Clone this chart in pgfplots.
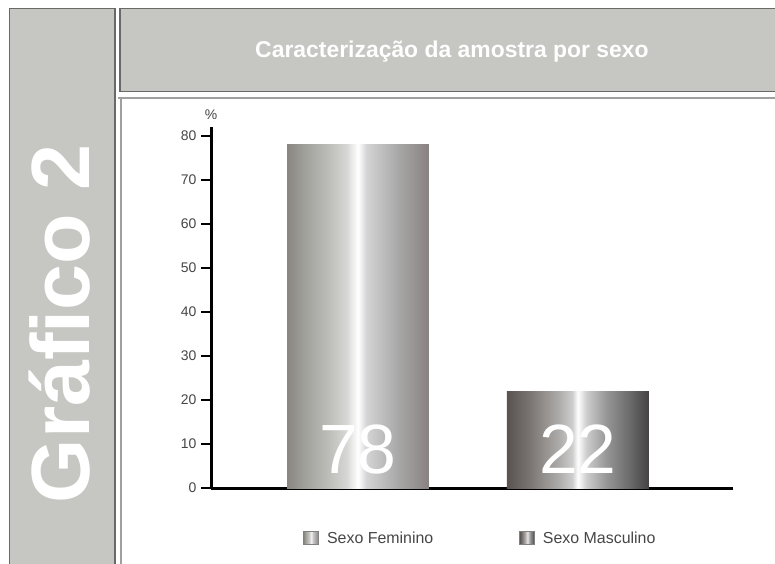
\documentclass[border=0pt]{standalone}
\usepackage{fontspec}
\setmainfont{Liberation Sans}
\usepackage{pgfplots}
\pgfplotsset{compat=1.18}

\definecolor{panel}{RGB}{198,198,194}
\definecolor{paneledge}{RGB}{105,105,103}
\definecolor{frameline}{RGB}{160,160,158}
\definecolor{ticktext}{RGB}{70,70,70}

% metallic bar colours
\definecolor{fa}{RGB}{138,133,130}
\definecolor{fb}{RGB}{160,160,155}
\definecolor{fc}{RGB}{190,190,186}
\definecolor{fd}{RGB}{215,215,213}
\definecolor{fe}{RGB}{212,212,212}
\definecolor{ff}{RGB}{168,168,168}
\definecolor{fg}{RGB}{136,130,128}
\definecolor{ma}{RGB}{88,83,81}
\definecolor{mb}{RGB}{122,117,115}
\definecolor{mc}{RGB}{172,170,168}
\definecolor{md}{RGB}{205,205,205}
\definecolor{me}{RGB}{150,150,150}
\definecolor{mf}{RGB}{108,108,108}
\definecolor{mg}{RGB}{68,66,66}

\pgfdeclarehorizontalshading{feminino}{100bp}{color(0bp)=(fa); color(25bp)=(fa);
  color(31bp)=(fb); color(40bp)=(fc); color(46bp)=(fd); color(50bp)=(white);
  color(53bp)=(fe); color(64bp)=(ff); color(75bp)=(fg); color(100bp)=(fg)}
\pgfdeclarehorizontalshading{masculino}{100bp}{color(0bp)=(ma); color(25bp)=(ma);
  color(33bp)=(mb); color(43bp)=(mc); color(48bp)=(md); color(50bp)=(white);
  color(53bp)=(md); color(60bp)=(me); color(68bp)=(mf); color(75bp)=(mg); color(100bp)=(mg)}

\begin{document}
\begin{tikzpicture}
\path[use as bounding box, fill=white] (0bp,0bp) rectangle (775bp,-564bp);

% side panel
\filldraw[fill=panel, draw=paneledge, line width=1.2bp] (9.5bp,-8.5bp) rectangle (115bp,-570bp);
\node[rotate=90, anchor=base, text=white, font=\bfseries\fontsize{83}{85}\selectfont]
  at (89bp,-324bp) {Gráfico 2};

% header
\filldraw[fill=panel, draw=paneledge, line width=1.2bp] (120bp,-8.5bp) rectangle (780bp,-91.5bp);
\node[anchor=base, text=white, font=\bfseries\fontsize{23}{27}\selectfont]
  at (452bp,-57bp) {Caracterização da amostra por sexo};

% frame of the chart area
\draw[frameline, line width=2bp] (118bp,-97.5bp) -- (780bp,-97.5bp);
\draw[frameline, line width=2bp] (120.5bp,-97.5bp) -- (120.5bp,-570bp);

\begin{axis}[
    at={(211bp,-488bp)}, anchor=south west,
    scale only axis,
    width=522bp, height=361bp,
    xmin=-0.668, xmax=1.705,
    ymin=0, ymax=82,
    axis x line*=bottom, axis y line*=left,
    axis line style={black, line width=3bp},
    xtick=\empty,
    ytick={0,10,...,80},
    tick align=outside,
    major tick length=10bp,
    tick style={black, line width=2.6bp},
    /pgf/number format/assume math mode=true,
    yticklabel style={text=ticktext, font=\fontsize{14}{16}\selectfont, xshift=-1bp},
    ylabel={\%},
    ylabel style={rotate=-90, at={(axis description cs:0,1)}, anchor=south,
      yshift=4bp, text=ticktext, font=\fontsize{14}{16}\selectfont},
    bar width=0.645,
    legend columns=2,
    legend style={at={(axis description cs:0.171,-0.14)}, anchor=west,
      draw=none, fill=none, font=\fontsize{16}{18}\selectfont,
      text=ticktext,
      /tikz/every odd column/.append style={column sep=6bp},
      /tikz/every even column/.append style={column sep=84bp}},
]
\addplot[ybar, bar shift=0pt, draw=none, shade, shading=feminino,
  legend image code/.code={\path[shade, shading=feminino, draw=gray, line width=0.6bp]
    (0bp,-6bp) rectangle (15bp,7bp);}]
  coordinates {(0,78)};
\addlegendentry{Sexo Feminino}
\addplot[ybar, bar shift=0pt, draw=none, shade, shading=masculino,
  legend image code/.code={\path[shade, shading=masculino, draw=gray, line width=0.6bp]
    (0bp,-6bp) rectangle (15bp,7bp);}]
  coordinates {(1,22)};
\addlegendentry{Sexo Masculino}

% values written inside the bars
\addplot[draw=none, mark=none, forget plot,
  nodes near coords, point meta=explicit symbolic,
  every node near coord/.append style={anchor=base, text=white,
    font=\fontsize{70}{72}\selectfont}]
  coordinates {(0,3.4) [78] (1,3.4) [22]};
\end{axis}
\end{tikzpicture}
\end{document}
